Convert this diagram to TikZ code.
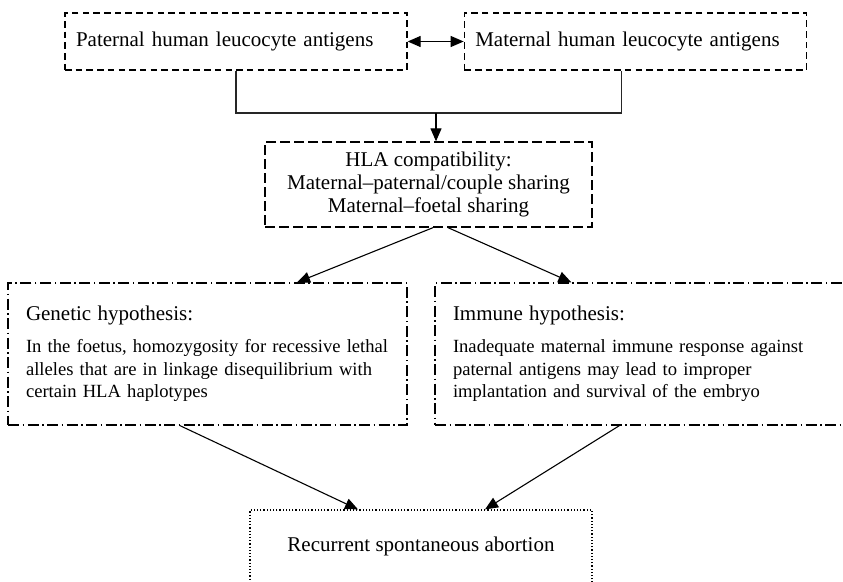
\documentclass[tikz,border=0pt]{standalone}
\usepackage{fontspec}
\setmainfont{Liberation Serif}
\usepackage{tikz}
\usetikzlibrary{positioning,arrows.meta}

\newcommand{\headsize}{\fontsize{21}{23.3}\selectfont}
\newcommand{\bodysize}{\fontsize{18.6}{22.5}\selectfont}

\begin{document}
\begin{tikzpicture}[x=1pt, y=1pt, node distance=56pt, auto]
		% Define styles with simple line patterns
		\tikzstyle{antigen} = [rectangle, minimum width=342pt, minimum height=57pt, text width=320pt, inner xsep=11pt, align=left, draw, line width=1.3pt, dash pattern=on 6.5pt off 4.2pt, font=\headsize]
		\tikzstyle{sharing} = [rectangle, minimum width=327pt, minimum height=85pt, align=center, draw, line width=1.3pt, dash pattern=on 10pt off 4pt, font=\headsize]
		\tikzstyle{hypothesis} = [rectangle, minimum height=142pt, inner xsep=18pt, align=left, draw, line width=1.3pt, dash pattern=on 11pt off 3.5pt on 1.5pt off 3.5pt, font=\bodysize]
		\tikzstyle{outcome} = [rectangle, minimum width=342pt, minimum height=73pt, text centered, draw, line width=1.2pt, dash pattern=on 1.2pt off 2pt, font=\headsize]
		\tikzstyle{arrow} = [line width=1.1pt, -{Triangle[length=13pt, width=11pt]}]
		\tikzstyle{link} = [line width=1.5pt, draw=black!85]

		\useasboundingbox (0,0) rectangle (843,-581);

		% Nodes
		\node[antigen] (paternal) at (236,-41.5) {Paternal human leucocyte antigens};
		\node[antigen, right=of paternal] (maternal) {Maternal human leucocyte antigens};
		\node[sharing] (hla) at (428.5,-184.5) {HLA compatibility:\\ Maternal--paternal/couple sharing\\ Maternal--foetal sharing};
		\node[hypothesis, text width=363pt] (genetic) at (207.5,-354) {{\headsize Genetic hypothesis:}\\[9.5pt]
			In the foetus, homozygosity for recessive lethal\\ alleles that are in linkage disequilibrium with\\ certain HLA haplotypes};
		\node[hypothesis, text width=379pt] (immune) at (642.5,-354) {{\headsize Immune hypothesis:}\\[9.5pt]
			Inadequate maternal immune response against\\ paternal antigens may lead to improper\\ implantation and survival of the embryo};
		\node[outcome] (abortion) at (421,-546.5) {Recurrent spontaneous abortion};

		% Arrows
		\coordinate (join) at (436,-113);
		\coordinate (drop) at ([xshift=-14pt]maternal.south);
		\draw[arrow, {Triangle[length=13pt, width=11pt]}-{Triangle[length=13pt, width=11pt]}] (paternal) -- (maternal);
		\draw[link] (paternal.south) |- (join) -| (drop);
		\draw[arrow] (join) -- (join |- hla.north);
		\draw[arrow] ([xshift=4.5pt]hla.south) -- ([xshift=89.5pt]genetic.north);
		\draw[arrow] ([xshift=19.5pt]hla.south) -- ([xshift=137pt]immune.north west);
		\draw[arrow] ([xshift=-27.5pt]genetic.south) -- ([xshift=-63pt]abortion.north);
		\draw[arrow] ([xshift=185pt]immune.south west) -- ([xshift=64pt]abortion.north);
	\end{tikzpicture}
\end{document}
